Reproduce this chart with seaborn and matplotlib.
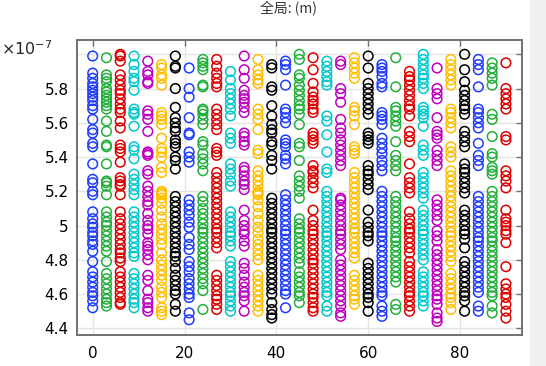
import numpy as np
import pandas as pd
import matplotlib
matplotlib.use("Agg")
import matplotlib.pyplot as plt
import seaborn as sns

# x positions of the point columns and the repeating colour cycle
x_positions = list(range(0, 91, 3))
cycle_colors = ["#1f3cff", "#22b03c", "#dd0000", "#00c8cc", "#c000c0", "#ffbf00", "#000000"]

# y values per column, in units of 1e-7 m
col_00 = [5.99, 5.89, 5.86, 5.83, 5.81, 5.79, 5.77, 5.75, 5.73, 5.70, 5.68, 5.62, 5.56, 5.54, 5.48, 5.46, 5.36, 5.27, 5.25, 5.20, 5.18, 5.08, 5.04, 5.01, 4.99, 4.96, 4.94, 4.91, 4.89, 4.85, 4.79, 4.73, 4.70, 4.67, 4.64, 4.61, 4.59, 4.56, 4.52]
col_03 = [5.98, 5.88, 5.86, 5.84, 5.80, 5.78, 5.76, 5.74, 5.72, 5.70, 5.68, 5.61, 5.55, 5.47, 5.46, 5.36, 5.26, 5.25, 5.23, 5.18, 5.08, 5.05, 5.02, 5.00, 4.97, 4.94, 4.91, 4.88, 4.85, 4.79, 4.72, 4.69, 4.66, 4.63, 4.60, 4.57, 4.55, 4.53]
col_06 = [6.00, 5.99, 5.96, 5.88, 5.85, 5.82, 5.79, 5.77, 5.74, 5.71, 5.68, 5.66, 5.61, 5.57, 5.47, 5.45, 5.43, 5.37, 5.28, 5.26, 5.24, 5.23, 5.18, 5.08, 5.04, 5.01, 4.98, 4.95, 4.92, 4.89, 4.86, 4.84, 4.81, 4.79, 4.73, 4.70, 4.67, 4.64, 4.61, 4.58, 4.55, 4.54]
col_09 = [5.99, 5.94, 5.90, 5.86, 5.84, 5.79, 5.68, 5.66, 5.65, 5.58, 5.46, 5.44, 5.39, 5.30, 5.27, 5.24, 5.21, 5.18, 5.08, 5.05, 5.02, 4.99, 4.96, 4.93, 4.90, 4.87, 4.84, 4.82, 4.72, 4.69, 4.66, 4.63, 4.60, 4.57, 4.55, 4.52]
col_12 = [5.96, 5.90, 5.88, 5.84, 5.83, 5.67, 5.65, 5.62, 5.55, 5.43, 5.42, 5.41, 5.32, 5.30, 5.23, 5.20, 5.17, 5.14, 5.12, 5.07, 5.03, 5.00, 4.98, 4.95, 4.90, 4.88, 4.86, 4.83, 4.80, 4.71, 4.68, 4.62, 4.57, 4.55, 4.52, 4.50]
col_15 = [5.94, 5.92, 5.88, 5.86, 5.82, 5.66, 5.64, 5.62, 5.59, 5.51, 5.45, 5.43, 5.40, 5.34, 5.31, 5.20, 5.18, 5.19, 5.16, 5.13, 5.09, 5.05, 5.01, 4.98, 4.95, 4.92, 4.89, 4.84, 4.80, 4.77, 4.74, 4.71, 4.68, 4.64, 4.61, 4.58, 4.52, 4.50, 4.48]
col_18 = [5.99, 5.93, 5.92, 5.80, 5.69, 5.63, 5.60, 5.57, 5.55, 5.50, 5.48, 5.46, 5.40, 5.38, 5.33, 5.17, 5.14, 5.11, 5.08, 5.05, 5.02, 4.99, 4.96, 4.93, 4.90, 4.87, 4.84, 4.82, 4.79, 4.75, 4.71, 4.68, 4.65, 4.62, 4.60, 4.54, 4.50]
col_21 = [5.92, 5.80, 5.75, 5.63, 5.54, 5.53, 5.43, 5.40, 5.37, 5.15, 5.12, 5.09, 5.06, 5.02, 4.99, 4.93, 4.89, 4.86, 4.79, 4.76, 4.73, 4.69, 4.66, 4.63, 4.60, 4.58, 4.49, 4.45]
col_24 = [5.97, 5.95, 5.93, 5.91, 5.82, 5.81, 5.68, 5.67, 5.65, 5.62, 5.59, 5.49, 5.47, 5.42, 5.39, 5.36, 5.32, 5.17, 5.14, 5.10, 5.07, 5.04, 5.01, 4.98, 4.96, 4.93, 4.90, 4.87, 4.84, 4.81, 4.78, 4.75, 4.72, 4.69, 4.66, 4.62, 4.51]
col_27 = [5.97, 5.93, 5.89, 5.86, 5.83, 5.81, 5.68, 5.65, 5.62, 5.59, 5.56, 5.45, 5.43, 5.41, 5.31, 5.28, 5.25, 5.22, 5.19, 5.16, 5.13, 5.10, 5.07, 5.04, 5.01, 4.98, 4.96, 4.93, 4.90, 4.87, 4.71, 4.68, 4.65, 4.62, 4.59, 4.57, 4.54, 4.51]
col_30 = [5.90, 5.85, 5.80, 5.77, 5.74, 5.71, 5.68, 5.64, 5.54, 5.51, 5.48, 5.36, 5.33, 5.30, 5.26, 5.23, 5.08, 5.05, 5.02, 4.99, 4.96, 4.94, 4.91, 4.88, 4.79, 4.76, 4.73, 4.70, 4.67, 4.64, 4.61, 4.59, 4.56, 4.53, 4.50]
col_33 = [5.99, 5.91, 5.86, 5.79, 5.76, 5.74, 5.72, 5.69, 5.66, 5.54, 5.52, 5.49, 5.47, 5.34, 5.32, 5.29, 5.26, 5.24, 5.21, 5.09, 5.03, 5.00, 4.97, 4.95, 4.91, 4.88, 4.78, 4.75, 4.71, 4.67, 4.64, 4.61, 4.59, 4.56, 4.50]
col_36 = [5.97, 5.91, 5.88, 5.85, 5.83, 5.68, 5.65, 5.62, 5.56, 5.44, 5.42, 5.32, 5.29, 5.26, 5.23, 5.20, 5.18, 5.19, 5.15, 5.11, 5.07, 5.03, 4.99, 4.96, 4.92, 4.89, 4.86, 4.83, 4.80, 4.71, 4.68, 4.65, 4.62, 4.59, 4.56, 4.53, 4.50]
col_39 = [5.94, 5.92, 5.81, 5.79, 5.70, 5.64, 5.59, 5.56, 5.54, 5.49, 5.47, 5.41, 5.38, 5.33, 5.16, 5.13, 5.10, 5.07, 5.04, 5.01, 4.98, 4.96, 4.93, 4.90, 4.87, 4.84, 4.81, 4.78, 4.75, 4.72, 4.69, 4.66, 4.63, 4.60, 4.55, 4.51, 4.48, 4.46]
col_42 = [5.96, 5.94, 5.91, 5.82, 5.68, 5.66, 5.63, 5.60, 5.50, 5.48, 5.46, 5.41, 5.39, 5.36, 5.18, 5.15, 5.12, 5.09, 5.06, 5.03, 5.00, 4.97, 4.95, 4.92, 4.89, 4.86, 4.83, 4.80, 4.77, 4.74, 4.71, 4.68, 4.65, 4.62, 4.60, 4.52]
col_45 = [6.00, 5.97, 5.88, 5.86, 5.82, 5.79, 5.76, 5.73, 5.70, 5.68, 5.65, 5.59, 5.48, 5.46, 5.38, 5.29, 5.26, 5.23, 5.20, 5.16, 5.04, 5.01, 4.98, 4.96, 4.93, 4.90, 4.87, 4.84, 4.81, 4.78, 4.73, 4.70, 4.67, 4.64, 4.61, 4.59, 4.55]
col_48 = [5.98, 5.91, 5.83, 5.78, 5.75, 5.73, 5.71, 5.68, 5.66, 5.54, 5.52, 5.50, 5.48, 5.35, 5.32, 5.31, 5.28, 5.25, 5.22, 5.09, 5.03, 5.00, 4.97, 4.95, 4.92, 4.89, 4.86, 4.83, 4.80, 4.78, 4.75, 4.72, 4.69, 4.66, 4.63, 4.60, 4.58, 4.55, 4.52, 4.50]
col_51 = [5.96, 5.93, 5.90, 5.87, 5.84, 5.82, 5.64, 5.61, 5.53, 5.43, 5.33, 5.31, 5.20, 5.17, 5.14, 5.11, 5.08, 5.05, 5.02, 4.99, 4.96, 4.94, 4.91, 4.88, 4.85, 4.82, 4.79, 4.76, 4.73, 4.70, 4.67, 4.64, 4.61, 4.59, 4.53, 4.50]
col_54 = [5.96, 5.94, 5.80, 5.77, 5.72, 5.62, 5.57, 5.54, 5.50, 5.47, 5.44, 5.41, 5.38, 5.35, 5.16, 5.15, 5.12, 5.09, 5.06, 5.03, 5.00, 4.97, 4.95, 4.92, 4.89, 4.86, 4.80, 4.77, 4.74, 4.71, 4.68, 4.65, 4.62, 4.59, 4.56, 4.53, 4.49, 4.47]
col_57 = [5.98, 5.95, 5.92, 5.89, 5.86, 5.69, 5.67, 5.64, 5.59, 5.46, 5.44, 5.42, 5.31, 5.28, 5.25, 5.22, 5.19, 5.16, 5.13, 5.10, 5.07, 5.04, 5.01, 4.98, 4.96, 4.93, 4.90, 4.87, 4.84, 4.81, 4.71, 4.68, 4.65, 4.62, 4.59, 4.57, 4.54]
col_60 = [5.99, 5.92, 5.83, 5.80, 5.77, 5.74, 5.71, 5.68, 5.65, 5.54, 5.52, 5.50, 5.48, 5.35, 5.32, 5.30, 5.27, 5.24, 5.21, 5.09, 5.02, 4.99, 4.96, 4.94, 4.91, 4.78, 4.75, 4.72, 4.69, 4.66, 4.63, 4.60, 4.58, 4.55, 4.50]
col_63 = [5.94, 5.92, 5.90, 5.87, 5.83, 5.81, 5.66, 5.64, 5.62, 5.59, 5.51, 5.48, 5.45, 5.42, 5.38, 5.35, 5.32, 5.20, 5.17, 5.14, 5.11, 5.08, 5.05, 5.02, 4.99, 4.96, 4.94, 4.91, 4.88, 4.85, 4.82, 4.79, 4.76, 4.73, 4.70, 4.67, 4.64, 4.61, 4.59, 4.53, 4.50, 4.47]
col_66 = [5.98, 5.81, 5.69, 5.67, 5.64, 5.61, 5.58, 5.49, 5.41, 5.38, 5.35, 5.32, 5.17, 5.14, 5.11, 5.08, 5.05, 5.02, 4.99, 4.96, 4.93, 4.91, 4.88, 4.85, 4.82, 4.79, 4.76, 4.73, 4.70, 4.67, 4.54, 4.51]
col_69 = [5.90, 5.87, 5.85, 5.82, 5.79, 5.76, 5.73, 5.70, 5.68, 5.64, 5.55, 5.52, 5.49, 5.36, 5.28, 5.25, 5.22, 5.19, 5.08, 5.04, 5.01, 4.98, 4.96, 4.93, 4.90, 4.87, 4.84, 4.79, 4.76, 4.73, 4.70, 4.67, 4.64, 4.61, 4.59, 4.56, 4.53, 4.50]
col_72 = [6.00, 5.97, 5.94, 5.91, 5.88, 5.86, 5.83, 5.80, 5.69, 5.67, 5.65, 5.63, 5.58, 5.47, 5.44, 5.41, 5.31, 5.28, 5.25, 5.22, 5.19, 5.16, 5.09, 5.06, 5.03, 5.00, 4.97, 4.95, 4.92, 4.89, 4.86, 4.83, 4.80, 4.73, 4.70, 4.67, 4.64, 4.61, 4.59, 4.56, 4.53]
col_75 = [5.92, 5.80, 5.77, 5.74, 5.63, 5.55, 5.53, 5.51, 5.44, 5.41, 5.38, 5.35, 5.15, 5.12, 5.09, 5.06, 5.03, 4.97, 4.94, 4.91, 4.86, 4.83, 4.80, 4.77, 4.74, 4.71, 4.68, 4.65, 4.62, 4.59, 4.57, 4.54, 4.49, 4.46, 4.44]
col_78 = [5.97, 5.94, 5.91, 5.88, 5.85, 5.82, 5.68, 5.66, 5.63, 5.60, 5.57, 5.46, 5.43, 5.40, 5.32, 5.29, 5.26, 5.23, 5.20, 5.17, 5.14, 5.11, 5.08, 5.05, 5.02, 4.99, 4.96, 4.94, 4.91, 4.88, 4.85, 4.82, 4.79, 4.72, 4.69, 4.66, 4.63, 4.60, 4.58, 4.55, 4.51]
col_81 = [6.00, 5.91, 5.84, 5.79, 5.76, 5.73, 5.70, 5.68, 5.65, 5.55, 5.52, 5.49, 5.46, 5.36, 5.33, 5.31, 5.28, 5.25, 5.22, 5.19, 5.09, 5.06, 5.03, 5.00, 4.97, 4.95, 4.92, 4.87, 4.79, 4.76, 4.73, 4.70, 4.67, 4.64, 4.61, 4.59, 4.56, 4.50]
col_84 = [5.97, 5.94, 5.91, 5.81, 5.68, 5.66, 5.63, 5.60, 5.57, 5.48, 5.41, 5.38, 5.35, 5.17, 5.14, 5.11, 5.08, 5.05, 5.02, 4.99, 4.96, 4.93, 4.91, 4.88, 4.85, 4.82, 4.79, 4.76, 4.73, 4.70, 4.67, 4.64, 4.61, 4.53, 4.50]
col_87 = [5.95, 5.92, 5.89, 5.86, 5.82, 5.65, 5.62, 5.52, 5.42, 5.40, 5.34, 5.32, 5.30, 5.20, 5.17, 5.14, 5.11, 5.08, 5.05, 5.02, 4.99, 4.96, 4.93, 4.91, 4.88, 4.85, 4.82, 4.79, 4.76, 4.73, 4.70, 4.67, 4.64, 4.61, 4.59, 4.53, 4.49]
col_90 = [5.95, 5.80, 5.77, 5.74, 5.71, 5.68, 5.52, 5.50, 5.32, 5.29, 5.26, 5.22, 5.09, 5.04, 5.02, 5.00, 4.97, 4.95, 4.90, 4.76, 4.66, 4.63, 4.60, 4.58, 4.54, 4.50, 4.46]

columns = [col_00, col_03, col_06, col_09, col_12, col_15, col_18, col_21, col_24, col_27,
           col_30, col_33, col_36, col_39, col_42, col_45, col_48, col_51, col_54, col_57,
           col_60, col_63, col_66, col_69, col_72, col_75, col_78, col_81, col_84, col_87, col_90]

y_ticks = [4.4, 4.6, 4.8, 5.0, 5.2, 5.4, 5.6, 5.8, 6.0]
y_tick_labels = ["4.4", "4.6", "4.8", "5", "5.2", "5.4", "5.6", "5.8", ""]
x_ticks = [0, 20, 40, 60, 80]

rows = []
for i, (xv, ys) in enumerate(zip(x_positions, columns)):
    for yv in ys:
        rows.append({"x": xv, "y": yv, "col": i})
df = pd.DataFrame(rows)

sns.set_style("white")
plt.rcParams["font.family"] = ["DejaVu Sans"]

W, H = 546, 366
fig = plt.figure(figsize=(W / 100, H / 100), dpi=100)
ax = fig.add_axes([77 / W, 31 / H, 445 / W, 295 / H])

palette = [cycle_colors[i % len(cycle_colors)] for i in range(len(x_positions))]
sns.scatterplot(data=df, x="x", y="y", hue="col", palette=palette, legend=False,
                s=48, linewidth=1.1, ax=ax, zorder=3)
coll = ax.collections[0]
fc = coll.get_facecolors()
coll.set_edgecolors(fc)
coll.set_facecolors("none")

ax.set_xlim(-3.42, 93.5)
ax.set_ylim(4.361, 6.0835)
ax.set_xticks(x_ticks)
ax.set_yticks(y_ticks)
ax.set_yticklabels(y_tick_labels)
ax.set_xlabel("")
ax.set_ylabel("")
ax.grid(True, color="#e4e4e4", linewidth=1.0, zorder=0)
ax.set_axisbelow(True)
for sp in ax.spines.values():
    sp.set_color("#707070")
    sp.set_linewidth(1.4)
ax.tick_params(axis="both", which="both", direction="in", length=4, width=1,
               color="#707070", top=True, right=True, labelsize=11, labelcolor="black")
ax.tick_params(axis="x", pad=8)
ax.tick_params(axis="y", pad=6)

fig.text(1 / W, 1 - 49 / H, r"$\times10^{-7}$", fontsize=11.5, va="center", ha="left")
fig.text(288 / W, 1 - 1 / H, "全局: (m)", fontsize=10, va="top", ha="center",
         family=["Noto Sans CJK SC", "DejaVu Sans"], color="#333333")

# grey strip on the right edge
fig.patches.append(plt.Rectangle((530 / W, 0), 16 / W, 1, transform=fig.transFigure,
                                 facecolor="#f0f0f0", edgecolor="none", zorder=0))

fig.savefig("out.png", dpi=100)
